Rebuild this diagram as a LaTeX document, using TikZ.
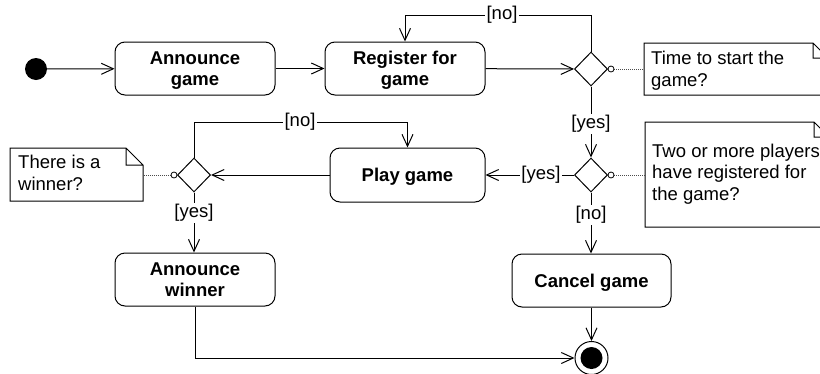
\documentclass[tikz,border=0pt]{standalone}
\usepackage{fontspec}
\setmainfont{Liberation Sans}
\usetikzlibrary{shapes.geometric,arrows.meta}
\begin{document}
\begin{tikzpicture}[x=1pt,y=-1pt,
  txt/.style={font=\fontsize{18.5}{21.5}\selectfont},
  action/.style={draw, rounded corners=10pt, line width=1pt, minimum height=53pt, align=center,
    font=\fontsize{18.5}{21.5}\selectfont\bfseries, inner sep=0pt, text depth=0pt},
  decision/.style={draw, diamond, minimum width=33pt, minimum height=34pt, inner sep=0pt, line width=1pt},
  flow/.style={line width=1pt, -{Straight Barb[length=12pt,width=11pt,line width=1pt]}},
  plain/.style={line width=1pt},
  guard/.style={txt, fill=white, inner sep=1.5pt},
  notetxt/.style={txt, align=left, anchor=north west, inner sep=0pt},
  noteline/.style={line width=1pt},
  anchorline/.style={line width=0.8pt, dash pattern=on 1pt off 1pt, black!70},
  knob/.style={line width=0.8pt, fill=white}
]
\useasboundingbox (0,0) rectangle (820,373);
\clip (0,0) rectangle (820,373);

% nodes
\node[circle, fill=black, minimum size=22pt, inner sep=0pt] (init) at (36,69) {};
\node[action, minimum width=160pt] (ag) at (195,68.5) {Announce\\game};
\node[action, minimum width=160pt] (reg) at (405,68.5) {Register for\\game};
\node[decision] (d1) at (591,69) {};
\node[decision] (d2) at (591,175) {};
\node[action, minimum width=155pt, minimum height=54pt] (play) at (407.5,175) {Play game};
\node[decision] (d3) at (194,175) {};
\node[action, minimum width=160pt] (aw) at (195,279.5) {Announce\\winner};
\node[action, minimum width=159pt] (cg) at (591.5,280.5) {Cancel game};
\node[circle, draw, line width=1pt, minimum size=33pt, inner sep=0pt] (fin) at (591.5,358) {};
\fill (fin.center) circle (11);

% notes
\draw[noteline] (644,43) -- (813,43) -- (828,58) -- (828,95) -- (644,95) -- cycle
  (813,43) -- (813,58) -- (828,58);
\node[notetxt] (n1) at (651,51) {Time to start the\\game?};
\draw[noteline] (645,122) -- (814,122) -- (829,137) -- (829,227) -- (645,227) -- cycle
  (814,122) -- (814,137) -- (829,137);
\node[notetxt] (n2) at (652,143.5) {Two or more players\\have registered for\\the game?};
\draw[noteline] (10,148) -- (126,148) -- (143,165) -- (143,201) -- (10,201) -- cycle
  (126,148) -- (126,165) -- (143,165);
\node[notetxt] (n3) at (18,155) {There is a\\winner?};

% note anchors
\coordinate (n1a) at (644,69);
\coordinate (n2a) at (645,175);
\coordinate (n3a) at (143,175);
\draw[anchorline] (d1.east) -- (n1a);
\draw[anchorline] (d2.east) -- (n2a);
\draw[anchorline] (d3.west) -- (n3a);
\draw[knob] ([xshift=3pt]d1.east) circle (3);
\draw[knob] ([xshift=3pt]d2.east) circle (3);
\draw[knob] ([xshift=-3pt]d3.west) circle (3);

% flows
\draw[flow] (init) -- (ag);
\draw[flow] (ag) -- (reg);
\draw[flow] (reg) -- (d1);
\coordinate (c1) at (591,15);
\draw[flow] (d1.north) -- (c1) -| (reg.north);
\node[guard] (g1) at (502,15) {[no]};
\draw[flow] (d1.south) -- (d2.north);
\node[guard] (g2) at (591,124) {[yes]};
\draw[flow] (d2.west) -- (play.east);
\node[guard] (g3) at (541,175) {[yes]};
\draw[flow] (play.west) -- (d3.east);
\coordinate (c2) at (194,122);
\draw[flow] (d3.north) -- (c2) -| (play.north);
\node[guard] (g4) at (300,122) {[no]};
\draw[flow] (d3.south) -- (d3.south |- aw.north);
\node[guard] (g5) at (194,213) {[yes]};
\draw[flow] (d2.south) -- (d2.south |- cg.north);
\node[guard] (g6) at (591,215) {[no]};
\draw[flow] (cg.south) -- (fin.north);
\draw[flow] (aw.south) |- (fin.west);
\end{tikzpicture}
\end{document}
